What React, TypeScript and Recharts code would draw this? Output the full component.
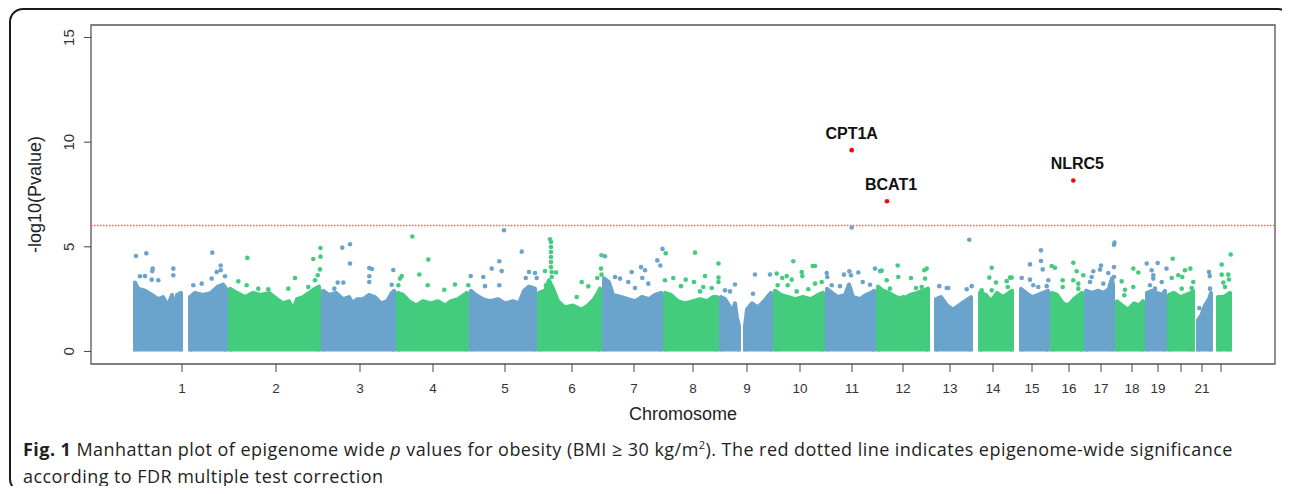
import React from "react";
import {
  ComposedChart, Area, Scatter, XAxis, YAxis, ReferenceLine, ReferenceArea, LabelList,
} from "recharts";

const BLUE = "#6aa3cb";
const GREEN = "#43cc7d";
const RED = "#ff0000";

// x = cumulative probe position along the genome (plot units), y = -log10(p)
const CHR_CENTERS = [49, 143, 227, 300, 372, 439, 501, 560, 614, 667, 719, 770, 817, 860, 899, 936, 968, 999, 1025, 1048, 1069, 1088];
const CHR_LABELS = ["1", "2", "3", "4", "5", "6", "7", "8", "9", "10", "11", "12", "13", "14", "15", "16", "17", "18", "19", "", "21", ""];
const Y_TICKS = [0, 5, 10, 15];
const FDR_LINE = 6.02;

// upper edge of the dense body of probes, one entry per contiguous block
const BODY_CHR = [1, 1, 2, 3, 4, 5, 6, 7, 8, 9, 9, 10, 11, 12, 13, 14, 15, 16, 17, 18, 19, 20, 21, 22];
const BODY_TOPS: number[][][] = [
  [[2, 3.3], [5, 3.0], [12, 2.9], [19, 2.7], [25, 2.5], [30, 2.6], [35, 2.2], [39, 2.7], [41, 1.9], [44, 2.7], [48, 2.8]],
  [[57, 2.6], [62, 2.8], [70, 2.7], [78, 2.8], [85, 3.1], [90, 3.2], [93, 3.0]],
  [[97, 3.0], [104, 2.8], [112, 2.6], [120, 2.8], [128, 2.7], [136, 2.8], [144, 2.5], [150, 2.3], [156, 2.4], [160, 2.0], [164, 2.5], [170, 2.6], [176, 2.8], [182, 3.0], [186, 3.1]],
  [[190, 2.9], [196, 2.7], [203, 2.8], [210, 2.5], [216, 2.6], [220, 2.3], [224, 2.5], [230, 2.5], [236, 2.7], [242, 2.6], [248, 2.3], [254, 2.4], [259, 2.8], [261, 2.9]],
  [[265, 2.8], [270, 2.7], [276, 2.4], [283, 2.2], [290, 2.4], [298, 2.3], [305, 2.4], [312, 2.2], [318, 2.4], [325, 2.5], [331, 2.7], [334, 2.8]],
  [[338, 2.9], [343, 2.7], [350, 2.5], [357, 2.4], [365, 2.5], [372, 2.3], [380, 2.4], [386, 2.3], [391, 2.9], [396, 3.1], [402, 3.0]],
  [[406, 2.8], [412, 2.9], [416, 3.4], [420, 3.0], [425, 2.4], [432, 2.1], [440, 2.2], [448, 2.0], [455, 2.2], [461, 2.5], [465, 2.8], [467, 3.0]],
  [[471, 3.5], [476, 3.3], [480, 2.7], [488, 2.6], [495, 2.5], [502, 2.4], [509, 2.6], [516, 2.5], [522, 2.7], [528, 2.8]],
  [[532, 2.8], [538, 2.7], [545, 2.4], [552, 2.3], [560, 2.4], [567, 2.5], [574, 2.4], [580, 2.6], [584, 2.6]],
  [[588, 2.6], [592, 2.5], [596, 2.2], [599, 1.9], [602, 2.3], [604, 1.6], [606, 1.2]],
  [[612, 1.2], [614, 2.0], [619, 2.3], [625, 2.1], [631, 2.4], [636, 2.7], [638, 2.8]],
  [[642, 2.9], [648, 2.7], [655, 2.6], [662, 2.5], [670, 2.6], [678, 2.5], [685, 2.7], [690, 2.8]],
  [[694, 3.0], [699, 2.8], [705, 2.6], [712, 2.7], [716, 3.2], [720, 2.6], [727, 2.5], [733, 2.7], [738, 2.8], [741, 2.9]],
  [[745, 3.1], [750, 2.9], [756, 2.8], [763, 2.6], [770, 2.5], [777, 2.7], [784, 2.8], [790, 2.9], [795, 3.0]],
  [[803, 2.5], [808, 2.6], [814, 2.2], [820, 2.0], [826, 2.2], [832, 2.4], [838, 2.6]],
  [[847, 2.8], [853, 2.7], [858, 2.4], [864, 2.8], [870, 2.6], [876, 2.8], [879, 2.9]],
  [[888, 3.0], [893, 2.8], [899, 2.6], [905, 2.7], [910, 2.8], [915, 2.9]],
  [[919, 2.8], [924, 2.7], [930, 2.3], [935, 2.2], [941, 2.5], [946, 2.7], [949, 2.8]],
  [[953, 2.9], [959, 2.8], [965, 2.9], [971, 2.8], [976, 3.0], [979, 3.5], [980, 3.2]],
  [[984, 2.4], [989, 2.2], [995, 2.0], [1001, 2.3], [1006, 2.2], [1010, 2.4]],
  [[1014, 2.8], [1019, 2.9], [1024, 2.8], [1029, 2.7], [1032, 2.9]],
  [[1036, 2.7], [1041, 2.8], [1047, 2.6], [1053, 2.7], [1058, 2.8], [1060, 2.9]],
  [[1065, 1.5], [1068, 1.7], [1072, 2.2], [1076, 2.5], [1078, 2.8]],
  [[1085, 2.6], [1090, 2.6], [1094, 2.7], [1097, 2.8]],
];

// isolated probes above the body (odd chromosomes)
const BLUE_HITS = [
  [3, 4.56], [13.3, 4.69], [19.7, 3.96], [19.3, 3.84], [40.3, 3.96], [40.3, 3.64], [7, 3.59], [12, 3.6], [18.7, 3.43], [25.3, 3.4],
  [79.3, 4.72], [87.7, 4.11], [87.7, 3.88], [83.7, 3.8], [92, 3.59], [78.7, 3.48], [68.7, 3.24], [60.3, 3.16],
  [209.3, 4.96], [217, 5.12], [217, 4.2], [204.7, 3.29], [210.3, 3.29], [201.3, 3.0], [236.3, 3.99], [239, 3.94], [260.3, 3.89], [236.3, 3.59], [236.3, 3.32], [258.7, 3.19],
  [371, 5.79], [388.7, 4.77], [366.3, 4.31], [358.7, 3.96], [368.7, 3.84], [366.3, 3.16], [350.3, 3.56], [352, 3.12], [337.7, 3.6], [392.7, 3.51], [396, 3.8], [402, 3.75], [403.7, 3.51],
  [472, 4.55], [529.5, 4.9], [524.3, 4.35], [527.3, 4.11], [508, 4.03], [512, 3.88], [498.7, 3.8], [509.3, 3.51], [515.3, 3.24], [487, 3.48], [482, 3.56], [495.3, 3.32], [502, 3.03],
  [602, 3.2], [597, 2.87], [592, 2.92], [622, 3.68], [637, 3.68], [620, 2.76],
  [718.7, 5.92], [742, 3.96], [716.3, 3.83], [725.3, 3.77], [711, 3.67], [718, 3.64], [729.7, 3.32], [707, 3.12], [737, 3.19], [693.7, 3.75], [694.3, 3.56], [698.7, 3.16],
  [836.3, 5.34], [806.3, 3.12], [813.7, 3.03], [815.3, 3.03], [838.7, 3.12], [833.7, 2.97],
  [908, 4.83], [908, 4.32], [897, 4.16], [909.7, 3.92], [888.7, 3.51], [897, 3.43], [900.3, 3.16], [905.3, 3.08], [913.7, 3.12], [915.3, 3.4],
  [981.5, 5.2], [981, 5.1], [968, 4.11], [960.3, 3.83], [967, 3.91], [975.3, 3.75], [981, 4.03], [981, 3.56], [958.7, 3.56], [957, 3.32], [970.3, 3.24], [978.7, 3.24], [977, 3.16],
  [1024.7, 4.23], [1013.7, 4.2], [1033.5, 3.96], [1018.7, 3.88], [1020.3, 3.64], [1020.3, 3.48], [1017, 3.16], [1028.7, 3.32], [1022, 3.0],
  [1076, 3.8], [1076.7, 3.6], [1066.3, 2.07], [1077, 3.0],
];

// isolated probes above the body (even chromosomes)
const GREEN_HITS = [
  [114.3, 4.47], [180.3, 4.42], [187.5, 4.94], [187.5, 4.53], [187, 3.92], [184.7, 3.64], [162, 3.51], [155.3, 3.0], [105.3, 3.35], [113.7, 3.16], [175.3, 3.08], [182, 3.4], [125.3, 3.0], [135.3, 2.97],
  [279.3, 5.49], [295.3, 4.39], [286.3, 3.68], [267, 3.48], [268.7, 3.6], [294.7, 3.16], [311.3, 2.95], [322, 3.2], [335.3, 3.16], [265.3, 3.16],
  [417, 5.36], [418, 5.23], [418, 4.99], [418, 4.75], [418, 4.51], [418, 4.27], [418, 4.03], [418.7, 3.8], [418.7, 3.56], [412, 3.84], [423, 3.77], [413, 3.16], [448.7, 3.32], [455.3, 3.11], [464.3, 3.51], [443.7, 2.6], [468.5, 4.6], [468, 3.96], [468.5, 3.67],
  [562, 4.72], [532.7, 4.69], [585.5, 4.2], [572, 3.6], [540.3, 3.51], [552.7, 3.43], [561, 3.32], [585.5, 3.53], [585.5, 3.32], [532, 3.4], [548, 3.12], [570.3, 3.08], [578.7, 3.03], [567, 2.87],
  [660.3, 4.31], [679.7, 4.08], [682, 4.08], [643.7, 3.72], [649.3, 3.51], [653.7, 3.6], [658.7, 3.43], [668.7, 3.8], [669.3, 3.6], [682, 3.24], [688.7, 3.32], [654.7, 3.16], [663.7, 2.87], [675.3, 2.97], [644.7, 3.16],
  [764.7, 4.11], [748.7, 3.86], [747, 3.84], [793.7, 3.96], [791.3, 3.88], [778, 3.51], [765.3, 3.56], [792, 3.48], [753.7, 3.4], [757, 3.0], [788.7, 3.08], [783, 3.03], [770.3, 2.6],
  [858.7, 4.0], [856.3, 3.53], [863, 3.29], [877, 3.53], [878.7, 3.53], [873.7, 3.36], [874.7, 3.08], [858.7, 2.92], [848.7, 2.92],
  [918.7, 4.08], [922, 4.0], [929.7, 3.4], [929.7, 3.08], [940.3, 4.24], [943.7, 3.83], [950.3, 3.64], [940.3, 3.4], [945.3, 3.24], [945.3, 3.0],
  [988.7, 3.35], [1000.3, 3.96], [1005.3, 3.77], [1000.3, 3.08], [992, 2.95], [991.3, 2.68],
  [1039.7, 4.43], [1052, 3.88], [1057.3, 3.96], [1045.3, 3.64], [1049.3, 3.56], [1060.3, 3.32], [1038.7, 3.51], [1058.7, 3.03], [1048.7, 3.0],
  [1097.7, 4.63], [1088.7, 4.15], [1088.7, 3.67], [1095.3, 3.67], [1096, 3.44], [1090.3, 3.29], [1092, 3.08],
];

// epigenome-wide significant CpGs
const SIG_GENES = ["CPT1A", "BCAT1", "NLRC5"];
const SIG_POS = [718.7, 754, 940.3];
const SIG_LOGP = [9.62, 7.18, 8.17];

const FONT = '"Liberation Sans", Arial, Helvetica, sans-serif';

const toPoints = (rows: number[][]) => rows.map(([pos, logp]) => ({ pos, logp }));

const bodies = BODY_TOPS.map((top, i) => ({
  color: BODY_CHR[i] % 2 === 1 ? BLUE : GREEN,
  data: [{ pos: top[0][0], logp: 0 }, ...toPoints(top), { pos: top[top.length - 1][0], logp: 0 }],
}));
const blueHits = toPoints(BLUE_HITS);
const greenHits = toPoints(GREEN_HITS);
const sigHits = SIG_GENES.map((gene, i) => ({ gene, pos: SIG_POS[i], logp: SIG_LOGP[i] }));

const dotShape = (fill: string) => (p: any) => <circle cx={p.cx} cy={p.cy} r={2.3} fill={fill} />;

function YTick({ x, y, payload }: any) {
  return (
    <text x={x} y={y} transform={`rotate(-90 ${x} ${y})`} textAnchor="middle" fill="#333" fontSize={15} fontFamily={FONT}>
      {payload.value}
    </text>
  );
}

// the first label sits centred, the others lean a little to the right as in R's text()
function GeneLabel({ x, y, width, value, index }: any) {
  const dx = index === 0 ? 0 : 4;
  return (
    <text x={x + width / 2 + dx} y={y - 7} textAnchor="middle" fill="#111" fontSize={16} fontWeight="bold" fontFamily={FONT}>
      {value}
    </text>
  );
}

export default function App() {
  return (
    <div style={{ position: "relative", width: 1290, height: 494, margin: -8, background: "#fff", overflow: "hidden" }}>
      <div style={{
        position: "absolute", left: 9, top: 8, width: 1283, height: 485, boxSizing: "border-box",
        border: "2px solid #1a1a1a", borderRadius: 14,
      }} />
      <div style={{ position: "absolute", left: 0, top: 0 }}>
        <ComposedChart width={1290} height={440} margin={{ top: 25, right: 15, bottom: 46, left: 51 }}>
          <XAxis
            type="number" dataKey="pos" domain={[-42, 1142]} allowDataOverflow
            ticks={CHR_CENTERS} interval={0}
            tickFormatter={(v: number) => CHR_LABELS[CHR_CENTERS.indexOf(v)] ?? ""}
            tick={{ fill: "#333", fontSize: 13.5, fontFamily: FONT }}
            tickSize={8} tickMargin={11} axisLine={false} tickLine={{ stroke: "#444" }} height={30}
            label={{
              content: ({ viewBox }: any) => (
                <text x={viewBox.x + viewBox.width / 2} y={viewBox.y + 56} textAnchor="middle" fill="#222" fontSize={18} fontFamily={FONT}>
                  Chromosome
                </text>
              ),
            }}
          />
          <YAxis
            type="number" dataKey="logp" domain={[-0.6, 15.6]} allowDataOverflow
            ticks={Y_TICKS} interval={0} tick={<YTick />}
            tickSize={7} tickMargin={10} axisLine={false} tickLine={{ stroke: "#444" }} width={40}
            label={{
              content: ({ viewBox }: any) => {
                const cx = viewBox.x - 10;
                const cy = viewBox.y + viewBox.height / 2;
                return (
                  <text x={cx} y={cy} transform={`rotate(-90 ${cx} ${cy})`} textAnchor="middle" fill="#222" fontSize={18} fontFamily={FONT}>
                    -log10(Pvalue)
                  </text>
                );
              },
            }}
          />
          {bodies.map((b, i) => (
            <Area
              key={i} data={b.data} dataKey="logp" type="linear" baseValue={0}
              fill={b.color} fillOpacity={1} stroke={b.color} strokeWidth={4} strokeLinejoin="round"
              dot={false} activeDot={false} isAnimationActive={false}
            />
          ))}
          <Scatter data={blueHits} shape={dotShape(BLUE)} isAnimationActive={false} />
          <Scatter data={greenHits} shape={dotShape(GREEN)} isAnimationActive={false} />
          <ReferenceLine y={FDR_LINE} stroke="#ff5c5c" strokeWidth={1.5} strokeDasharray="1.5 1.5" />
          <Scatter data={sigHits} shape={dotShape(RED)} isAnimationActive={false}>
            <LabelList dataKey="gene" content={<GeneLabel />} />
          </Scatter>
          <ReferenceArea x1={-42} x2={1142} y1={-0.6} y2={15.6} fill="none" stroke="#555" strokeWidth={1.3} ifOverflow="visible" />
        </ComposedChart>
      </div>
      <div style={{
        position: "absolute", left: 23, top: 436, width: 1250, fontFamily: '"Open Sans", "Noto Sans", sans-serif',
        fontSize: 18, letterSpacing: 0.45, lineHeight: "27px", color: "#231f20",
      }}>
        <b>Fig. 1</b> Manhattan plot of epigenome wide <i>p</i> values for obesity (BMI ≥ 30 kg/m<sup style={{ fontSize: 11, lineHeight: 0 }}>2</sup>). The red dotted line indicates epigenome-wide significance according to FDR multiple test correction
      </div>
    </div>
  );
}
